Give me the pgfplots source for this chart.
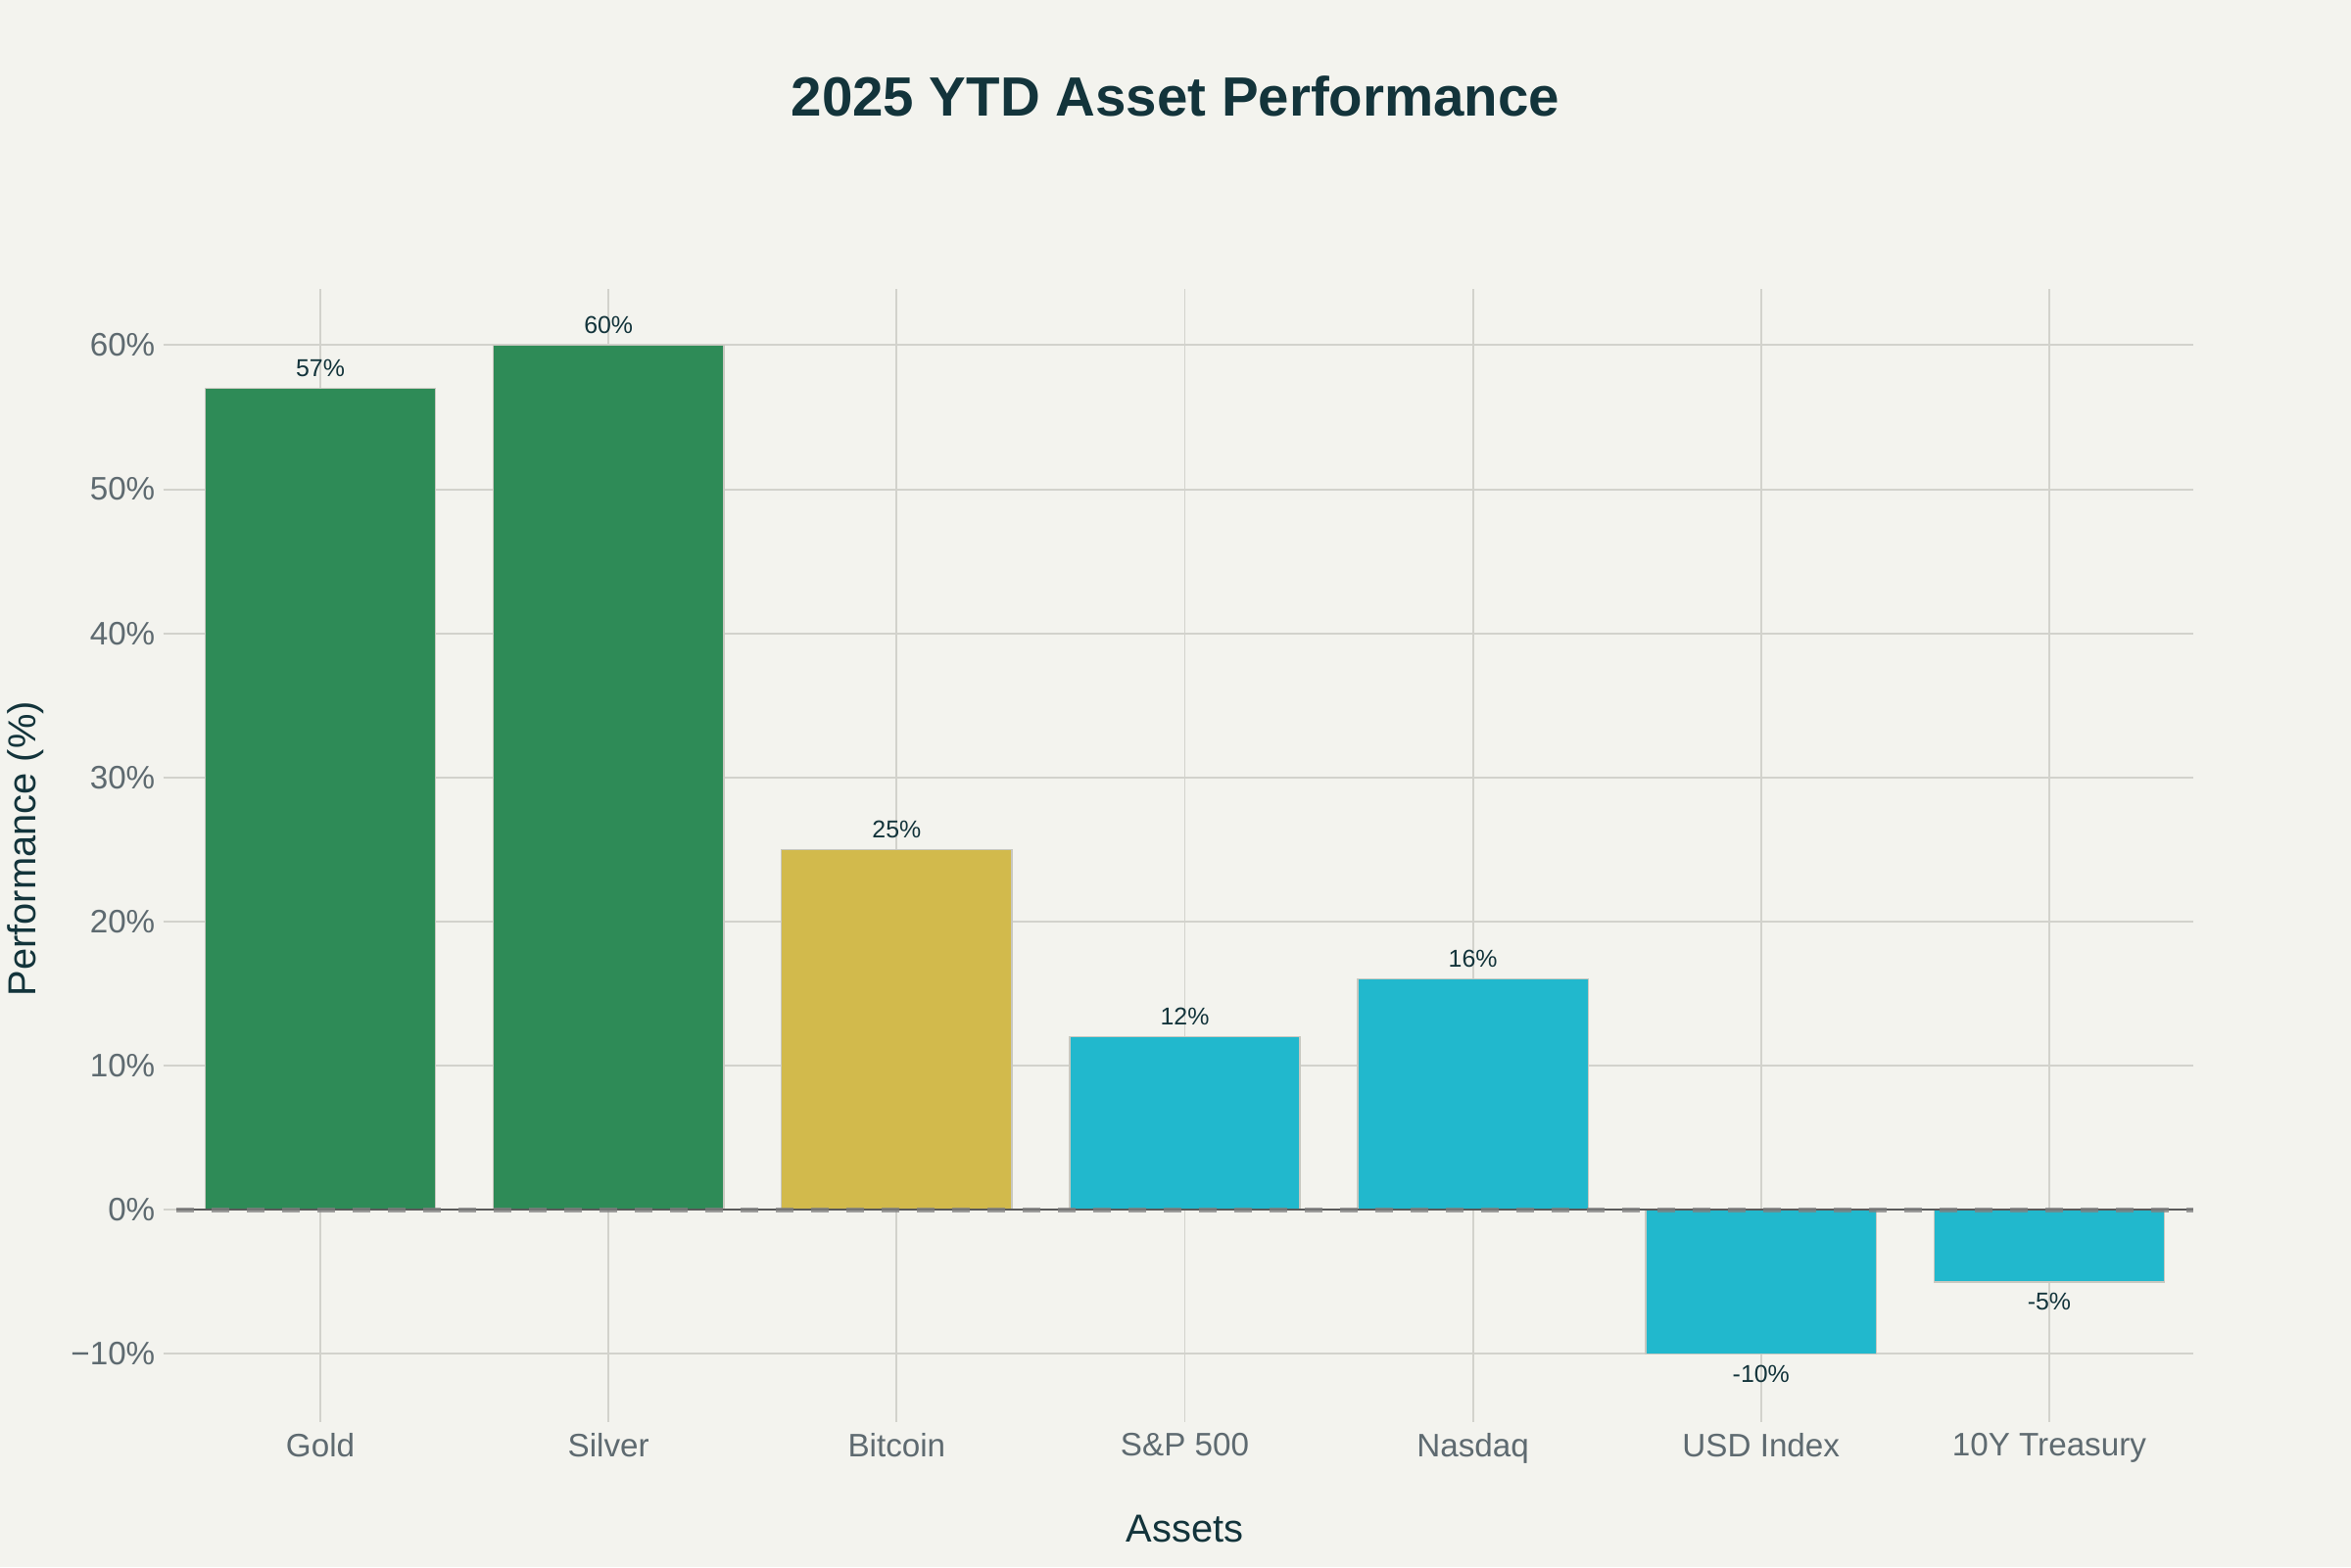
\documentclass[border=0pt]{standalone}
\usepackage{pgfplots}
\pgfplotsset{compat=1.18}
\usepackage{fontspec}
\setmainfont{Liberation Sans}

\definecolor{bg}{HTML}{F3F3EE}
\definecolor{ink}{HTML}{13343B}
\definecolor{tickgray}{HTML}{5E6A70}
\definecolor{gridgray}{HTML}{D2D2CC}
\definecolor{barline}{HTML}{C8C8C0}
\definecolor{greenbar}{HTML}{2E8B57}
\definecolor{goldbar}{HTML}{D2BA4C}
\definecolor{cyanbar}{HTML}{21B8CD}

\begin{document}
\begin{tikzpicture}
\fill[bg, use as bounding box] (-54bp,-48.6bp) rectangle (666bp,431.5bp);
\begin{axis}[
    at={(0,0)}, anchor=south west,
    scale only axis, width=617.7bp, height=343bp,
    ybar, bar width=0.8,
    xmin=-0.5, xmax=6.5, ymin=-13.8, ymax=63.9,
    xtick={0,...,6},
    xticklabels={Gold,Silver,Bitcoin,S\&P 500,Nasdaq,USD Index,10Y Treasury},
    ytick={-10,0,10,20,30,40,50,60},
    yticklabels={−10\%,0\%,10\%,20\%,30\%,40\%,50\%,60\%},
    axis line style={draw=none},
    tick pos=left, tick align=outside, major tick length=4bp,
    tick style={gridgray, line width=0.6pt},
    grid=major, major grid style={gridgray, line width=0.6pt},
    tick label style={font=\fontsize{10}{12}\selectfont, text=tickgray},
    yticklabel style={xshift=1bp},
    title={2025 YTD Asset Performance},
    title style={font=\fontsize{17}{20}\selectfont\bfseries, text=ink,
        at={(axis description cs:0.4954,1.1546)}, anchor=center},
    xlabel={Assets},
    xlabel style={font=\fontsize{12}{14}\selectfont, text=ink,
        at={(axis description cs:0.5,-0.1073)}, anchor=center},
    ylabel={Performance (\%)},
    ylabel style={font=\fontsize{12}{14}\selectfont, text=ink,
        at={(axis description cs:-0.0748,0.5)}, anchor=center},
    nodes near coords={\pgfmathprintnumber[assume math mode=true]{\pgfplotspointmeta}\%},
    nodes near coords align={vertical},
    every node near coord/.append style={font=\fontsize{7.5}{9}\selectfont, text=ink},
]
\addplot[fill=greenbar, draw=barline, line width=0.4pt, bar shift=0pt]
    coordinates {(0,57) (1,60)};
\addplot[fill=goldbar, draw=barline, line width=0.4pt, bar shift=0pt]
    coordinates {(2,25)};
\addplot[fill=cyanbar, draw=barline, line width=0.4pt, bar shift=0pt]
    coordinates {(3,12) (4,16) (5,-10) (6,-5)};
% zero line and dashed reference
\draw[black!65, line width=0.7pt] (axis cs:-0.5,0) -- (axis cs:6.5,0);
\draw[gray, opacity=0.75, line width=1.5pt, dash pattern=on 5.4bp off 5.4bp]
    (axis cs:-0.5,0) -- (axis cs:6.5,0);
\end{axis}
\end{tikzpicture}
\end{document}
